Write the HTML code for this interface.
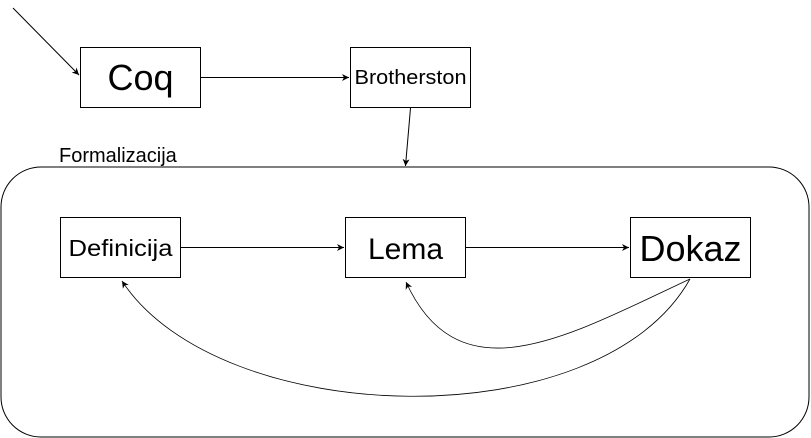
<!DOCTYPE html>
<html><head><meta charset="utf-8"><style>
html,body{margin:0;padding:0;background:#fff;}
svg{display:block;font-family:"Liberation Sans",sans-serif;}
</style></head><body>
<svg width="811" height="438" viewBox="0 0 811 438">
<defs>
<marker id="ah" markerWidth="8" markerHeight="8" refX="7" refY="4" orient="auto" markerUnits="userSpaceOnUse">
<path d="M0,0.5 L7,4 L0,7.5 L2,4 Z" fill="#000"/>
</marker>
</defs>
<rect x="1" y="167" width="808" height="270" rx="40" ry="40" fill="#fff" stroke="#000" stroke-width="1"/>
<text x="59" y="162" font-size="20">Formalizacija</text>

<line x1="13" y1="8" x2="79" y2="75" stroke="#000" marker-end="url(#ah)"/>

<rect x="80.5" y="47.5" width="120" height="60" fill="#fff" stroke="#000"/>
<text x="140.5" y="90" font-size="36" text-anchor="middle">Coq</text>

<line x1="200.5" y1="77.5" x2="349" y2="77.5" stroke="#000" marker-end="url(#ah)"/>

<rect x="350.5" y="47.5" width="120" height="60" fill="#fff" stroke="#000"/>
<text x="410.5" y="84" font-size="20" text-anchor="middle" textLength="112" lengthAdjust="spacingAndGlyphs">Brotherston</text>

<line x1="410.5" y1="108" x2="405.5" y2="166" stroke="#000" marker-end="url(#ah)"/>

<rect x="60.5" y="217.5" width="120" height="60" fill="#fff" stroke="#000"/>
<text x="120.5" y="256" font-size="23" text-anchor="middle" textLength="104" lengthAdjust="spacingAndGlyphs">Definicija</text>

<line x1="180.5" y1="247.5" x2="344" y2="247.5" stroke="#000" marker-end="url(#ah)"/>

<rect x="345.5" y="217.5" width="120" height="60" fill="#fff" stroke="#000"/>
<text x="405.5" y="259" font-size="30" text-anchor="middle">Lema</text>

<line x1="465.5" y1="247.5" x2="629" y2="247.5" stroke="#000" marker-end="url(#ah)"/>

<rect x="630.5" y="217.5" width="120" height="60" fill="#fff" stroke="#000"/>
<text x="690.5" y="261" font-size="36" text-anchor="middle">Dokaz</text>

<path d="M690,279 C570,335 460,400 406,282" fill="none" stroke="#000" stroke-width="0.8" marker-end="url(#ah)"/>
<path d="M690,279 C600,440 220,430 122,281" fill="none" stroke="#000" stroke-width="0.8" marker-end="url(#ah)"/>
</svg>
</body></html>
